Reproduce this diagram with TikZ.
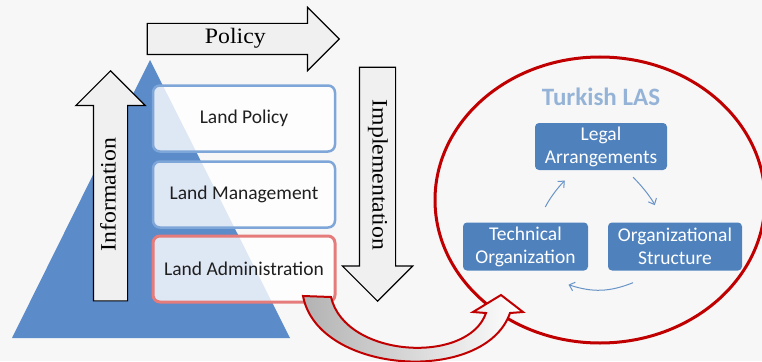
\documentclass[tikz,border=0pt]{standalone}
\usepackage{fontspec}
\setmainfont{Carlito}
\newfontfamily\arrowfont[FakeStretch=1.08]{Liberation Serif}
\usetikzlibrary{shapes.arrows,shapes.geometric,arrows.meta}
\definecolor{bgcol}{HTML}{F7F7F7}
\definecolor{triblue}{HTML}{5B8BC9}
\definecolor{boxblue}{HTML}{4F81BD}
\definecolor{rimblue}{HTML}{7EA6D8}
\definecolor{rimred}{HTML}{E57B7B}
\definecolor{darkred}{HTML}{C00000}
\definecolor{titleblue}{HTML}{95B3D7}
\tikzset{
    blockarrow/.style={single arrow, draw=black, line width=1.2pt, fill=black!6,
      single arrow head indent=0pt, inner xsep=4pt, text height=15.5pt, text depth=5.5pt,
      anchor=tip, font=\arrowfont\fontsize{22}{26}\selectfont}
}
\tikzset{
    levelbox/.style={rectangle, rounded corners=7pt, draw=rimblue, line width=2.5pt,
      fill=white, fill opacity=0.8, text opacity=1, text=black!88,
      minimum width=182pt, minimum height=66pt, font=\fontsize{19.5}{23}\selectfont},
    lasbox/.style={rectangle, rounded corners=4pt, fill=boxblue, text=white, align=center,
      inner sep=0pt, minimum height=48pt, font=\fontsize{19.5}{23}\selectfont},
    cyclearrow/.style={draw=boxblue!85, line width=1pt, -{Straight Barb[length=5pt,width=9pt]}}
}

\begin{document}
\begin{tikzpicture}[x=1pt, y=-1pt]
  \useasboundingbox (0,0) rectangle (762,361);
  \fill[bgcol] (0,0) rectangle (762,361);

  \fill[triblue] (150,60) -- (290,338) -- (12,338) -- cycle;

  \node (info) [blockarrow, rotate=90, inner ysep=6pt, single arrow head extend=17.5pt,
    minimum height=230pt] at (110.5,70) {Information};
  \node (impl) [blockarrow, rotate=-90, inner ysep=7pt, single arrow head extend=17pt,
    minimum height=234pt] at (377.5,302) {Implementation};
  \node (policy) [blockarrow, inner ysep=4.5pt, single arrow head extend=16pt,
    minimum height=192pt] at (340,39) {Policy};

  \node (lpol) [levelbox] at (244,118.5) {Land Policy};
  \node (lman) [levelbox] at (244,194.5) {Land Management};
  \node (ladm) [levelbox, draw=rimred, line width=3pt] at (244,269) {Land Administration};

  \node (las) [ellipse, draw=darkred, line width=3pt, minimum width=330pt,
    minimum height=286pt] at (600,200) {};
  \node (title) [text=titleblue, font=\bfseries\fontsize{25}{30}\selectfont] at (601,97) {Turkish LAS};
  \node (legal) [lasbox, minimum width=132pt, minimum height=47pt] at (601,146.5) {Legal\\Arrangements};
  \node (tech) [lasbox, minimum width=125pt] at (525.5,246.5) {Technical\\Organization};
  \node (org) [lasbox, minimum width=134pt] at (675,246.5) {Organizational\\Structure};

  \draw[cyclearrow, shorten <=17pt, shorten >=15pt] (tech) to[bend left=10] (legal);
  \draw[cyclearrow, shorten <=10pt, shorten >=19pt] (legal) to[bend left=10] (org);
  \draw[cyclearrow] ([shift={(-42,12)}]org.south) to[bend left=20] ([shift={(43,14)}]tech.south);

  \coordinate (tailL) at (303,296);
  \coordinate (tailR) at (331,297);
  \coordinate (tip) at (501,295);
  \draw[darkred, line width=2pt, left color=black!30, middle color=black!3, right color=white]
    (tailL) -- (tailR) .. controls (345,358) and (468,365) .. (486,313) -- (473,312)
    -- (tip) -- (523,312) -- (510,313) .. controls (485,385) and (318,375) .. (tailL) -- cycle;
\end{tikzpicture}
\end{document}
